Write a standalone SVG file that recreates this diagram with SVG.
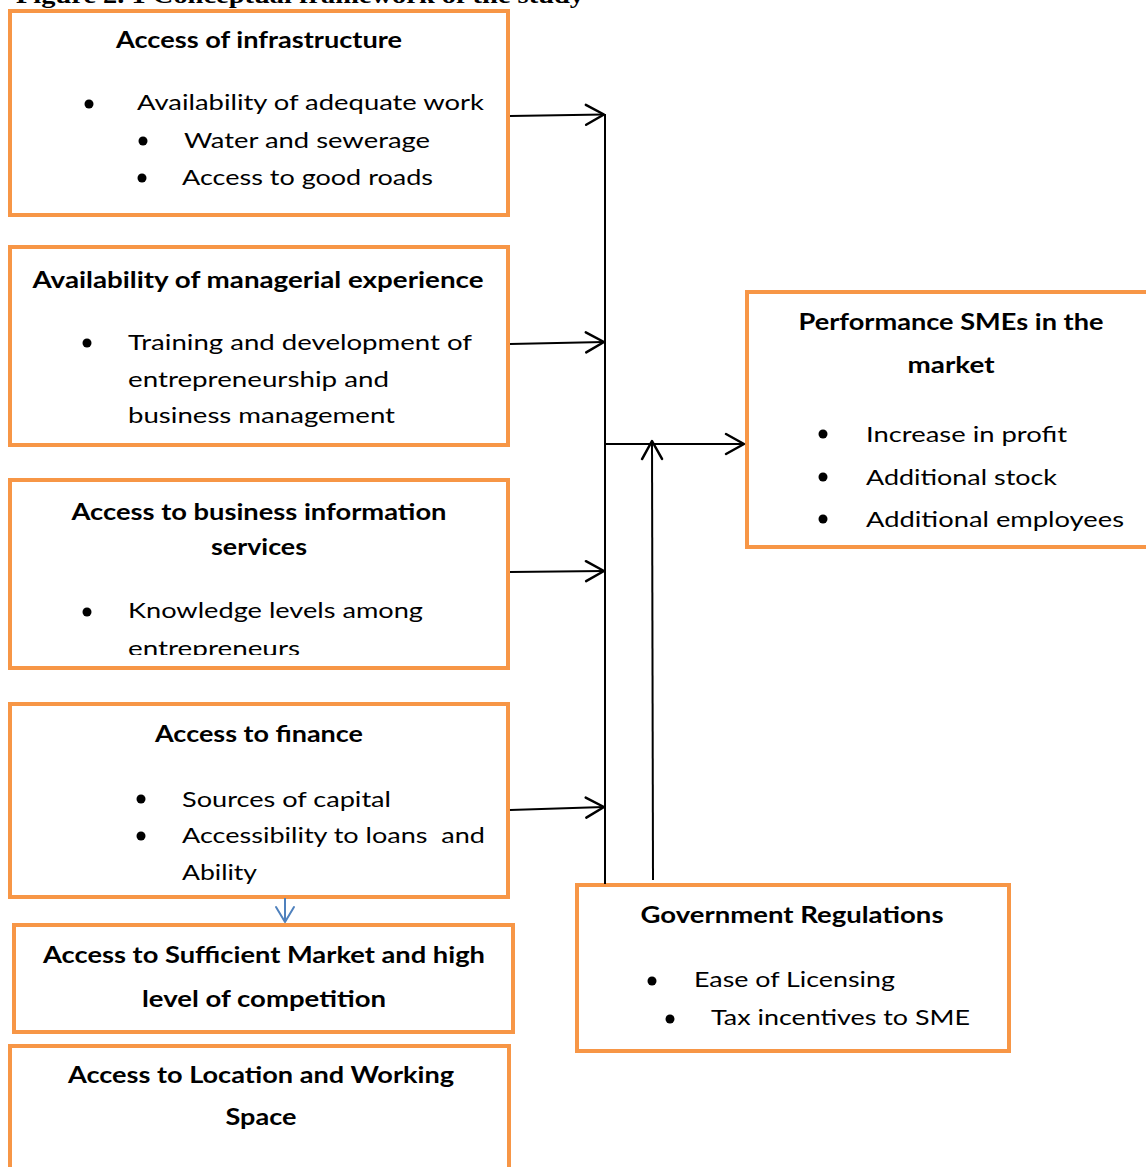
<svg xmlns="http://www.w3.org/2000/svg" width="1146" height="1167" viewBox="0 0 1146 1167">
  <style>
    .box { fill: #ffffff; stroke: #F79646; stroke-width: 4; }
    .t { font-family: Lato, "Open Sans", "Liberation Sans", sans-serif; font-size: 22px; fill: #000; }
    .b { font-weight: bold; text-anchor: middle; }
    .dot { fill: #000; }
    .conn { stroke: #000; stroke-width: 2; fill: none; }
  </style>
  <defs>
    <marker id="open" markerUnits="userSpaceOnUse" viewBox="-22 -13 24 26" markerWidth="24" markerHeight="26" refX="0" refY="0" orient="auto" overflow="visible">
      <path d="M-18,-10 L0,0 L-18,10" fill="none" stroke="#000" stroke-width="2.5" stroke-linejoin="round" stroke-linecap="round"/>
    </marker>
    <marker id="blue" markerUnits="userSpaceOnUse" viewBox="-20 -12 22 24" markerWidth="22" markerHeight="24" refX="0" refY="0" orient="auto" overflow="visible">
      <path d="M-15,-9 L0,0 L-15,9" fill="none" stroke="#4F81BD" stroke-width="2" stroke-linejoin="round" stroke-linecap="round"/>
    </marker>
    <clipPath id="clip3"><rect x="10" y="480" width="498" height="175"/></clipPath>
  </defs>

  <text x="16" y="3" font-family="Liberation Serif, serif" font-weight="bold" font-size="24" textLength="568" lengthAdjust="spacingAndGlyphs">Figure 2. 1 Conceptual framework of the study</text>

  <g id="node-infrastructure">
    <rect class="box" x="10" y="11" width="498" height="204"/>
    <text class="t b" x="259" y="48" textLength="286" lengthAdjust="spacingAndGlyphs">Access of infrastructure</text>
    <circle class="dot" cx="89" cy="104" r="4.5"/>
    <text class="t" x="137" y="110" textLength="347" lengthAdjust="spacingAndGlyphs">Availability of adequate work</text>
    <circle class="dot" cx="143" cy="141" r="4.5"/>
    <text class="t" x="184" y="148" textLength="246" lengthAdjust="spacingAndGlyphs">Water and sewerage</text>
    <circle class="dot" cx="142" cy="178" r="4.5"/>
    <text class="t" x="182" y="185" textLength="251" lengthAdjust="spacingAndGlyphs">Access to good roads</text>
  </g>

  <g id="node-managerial">
    <rect class="box" x="10" y="247" width="498" height="198"/>
    <text class="t b" x="258" y="288" textLength="451" lengthAdjust="spacingAndGlyphs">Availability of managerial experience</text>
    <circle class="dot" cx="87" cy="343" r="4.5"/>
    <text class="t" x="128" y="350" textLength="344" lengthAdjust="spacingAndGlyphs">Training and development of</text>
    <text class="t" x="128" y="387" textLength="261" lengthAdjust="spacingAndGlyphs">entrepreneurship and</text>
    <text class="t" x="128" y="423" textLength="267" lengthAdjust="spacingAndGlyphs">business management</text>
  </g>

  <g id="node-information">
    <rect class="box" x="10" y="480" width="498" height="188"/>
    <text class="t b" x="259" y="520" textLength="375" lengthAdjust="spacingAndGlyphs">Access to business information</text>
    <text class="t b" x="259" y="555" textLength="96" lengthAdjust="spacingAndGlyphs">services</text>
    <circle class="dot" cx="87" cy="612" r="4.5"/>
    <text class="t" x="128" y="618" textLength="295" lengthAdjust="spacingAndGlyphs">Knowledge levels among</text>
    <text class="t" x="128" y="656" textLength="172" lengthAdjust="spacingAndGlyphs" clip-path="url(#clip3)">entrepreneurs</text>
  </g>

  <g id="node-finance">
    <rect class="box" x="10" y="704" width="498" height="193"/>
    <text class="t b" x="259" y="742" textLength="208" lengthAdjust="spacingAndGlyphs">Access to finance</text>
    <circle class="dot" cx="141" cy="799" r="4.5"/>
    <text class="t" x="182" y="807" textLength="209" lengthAdjust="spacingAndGlyphs">Sources of capital</text>
    <circle class="dot" cx="141" cy="836" r="4.5"/>
    <text class="t" x="182" y="843" textLength="303" lengthAdjust="spacingAndGlyphs" xml:space="preserve">Accessibility to loans  and</text>
    <text class="t" x="182" y="880" textLength="75" lengthAdjust="spacingAndGlyphs">Ability</text>
  </g>

  <g id="node-market">
    <rect class="box" x="14" y="925" width="499" height="107"/>
    <text class="t b" x="264" y="963" textLength="442" lengthAdjust="spacingAndGlyphs">Access to Sufficient Market and high</text>
    <text class="t b" x="264" y="1007" textLength="244" lengthAdjust="spacingAndGlyphs">level of competition</text>
  </g>

  <g id="node-location">
    <rect class="box" x="10" y="1046" width="499" height="140"/>
    <text class="t b" x="261" y="1083" textLength="386" lengthAdjust="spacingAndGlyphs">Access to Location and Working</text>
    <text class="t b" x="261" y="1125" textLength="71" lengthAdjust="spacingAndGlyphs">Space</text>
  </g>

  <g id="node-performance">
    <rect class="box" x="747" y="292" width="420" height="255"/>
    <text class="t b" x="951" y="330" textLength="305" lengthAdjust="spacingAndGlyphs">Performance SMEs in the</text>
    <text class="t b" x="951" y="373" textLength="87" lengthAdjust="spacingAndGlyphs">market</text>
    <circle class="dot" cx="823" cy="434" r="4.5"/>
    <text class="t" x="866" y="442" textLength="201" lengthAdjust="spacingAndGlyphs">Increase in profit</text>
    <circle class="dot" cx="823" cy="477" r="4.5"/>
    <text class="t" x="866" y="485" textLength="191" lengthAdjust="spacingAndGlyphs">Additional stock</text>
    <circle class="dot" cx="823" cy="519" r="4.5"/>
    <text class="t" x="866" y="527" textLength="258" lengthAdjust="spacingAndGlyphs">Additional employees</text>
  </g>

  <g id="node-government">
    <rect class="box" x="577" y="885" width="432" height="166"/>
    <text class="t b" x="792" y="923" textLength="303" lengthAdjust="spacingAndGlyphs">Government Regulations</text>
    <circle class="dot" cx="652" cy="981" r="4.5"/>
    <text class="t" x="694" y="987" textLength="201" lengthAdjust="spacingAndGlyphs">Ease of Licensing</text>
    <circle class="dot" cx="670" cy="1019" r="4.5"/>
    <text class="t" x="711" y="1025" textLength="259" lengthAdjust="spacingAndGlyphs">Tax incentives to SME</text>
  </g>

  <g id="connectors">
    <line class="conn" x1="605" y1="114" x2="605" y2="884"/>
    <line class="conn" x1="510" y1="116" x2="604" y2="114.5" marker-end="url(#open)"/>
    <line class="conn" x1="510" y1="344" x2="604" y2="342" marker-end="url(#open)"/>
    <line class="conn" x1="510" y1="572" x2="604" y2="571" marker-end="url(#open)"/>
    <line class="conn" x1="510" y1="810" x2="604" y2="807" marker-end="url(#open)"/>
    <line class="conn" x1="605" y1="444" x2="744" y2="444" marker-end="url(#open)"/>
    <line class="conn" x1="653" y1="880" x2="652" y2="441" marker-end="url(#open)"/>
    <line x1="285" y1="898" x2="285" y2="922" stroke="#4F81BD" stroke-width="2" marker-end="url(#blue)"/>
  </g>
</svg>
